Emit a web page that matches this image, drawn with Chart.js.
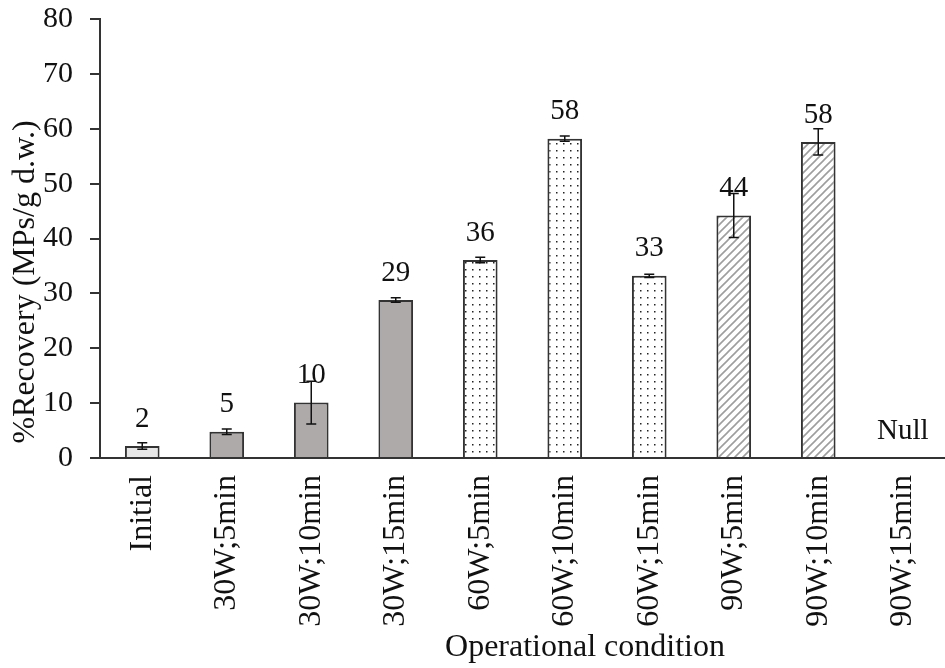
<!DOCTYPE html>
<html>
<head>
<meta charset="utf-8">
<title>Recovery by operational condition</title>
<script src="https://cdn.jsdelivr.net/npm/chart.js@4.4.1/dist/chart.umd.min.js"></script>
<style>
	html, body { margin: 0; padding: 0; background: #fff; }
	#wrap { width: 945px; height: 668px; }
</style>
</head>
<body>
<div id="wrap"><canvas id="recoveryChart" width="945" height="668"></canvas></div>
<script>
const categories = ["Initial", "30W;5min", "30W;10min", "30W;15min", "60W;5min",
	"60W;10min", "60W;15min", "90W;5min", "90W;10min", "90W;15min"];
const recovery = [2.2, 4.8, 10.1, 28.8, 36.1, 58.2, 33.2, 44.2, 57.6, null];
const errors = [0.6, 0.5, 3.9, 0.4, 0.5, 0.5, 0.3, 4.0, 2.4, null];
const yTicks = [0, 10, 20, 30, 40, 50, 60, 70, 80];
const FONT = "'Liberation Serif', 'Times New Roman', serif";

function hatchPattern(ctx) {
	const c = document.createElement("canvas");
	c.width = 8; c.height = 8;
	const g = c.getContext("2d");
	g.fillStyle = "#fff";
	g.fillRect(0, 0, 8, 8);
	g.strokeStyle = "#9e9e9e";
	g.lineWidth = 1.6;
	g.beginPath();
	g.moveTo(-2, 10); g.lineTo(10, -2);
	g.moveTo(-6, 6); g.lineTo(6, -6);
	g.moveTo(2, 14); g.lineTo(14, 2);
	g.stroke();
	return ctx.createPattern(c, "repeat");
}

function dotPattern(ctx) {
	const c = document.createElement("canvas");
	c.width = 7; c.height = 7;
	const g = c.getContext("2d");
	g.fillStyle = "#fff";
	g.fillRect(0, 0, 7, 7);
	g.fillStyle = "#222";
	g.fillRect(3, 3, 1.5, 1.5);
	return ctx.createPattern(c, "repeat");
}

// error bars, value labels, "Null" and the two axis titles
const annotate = {
	id: "annotate",
	afterDatasetsDraw(chart) {
		const { ctx, scales: { x, y } } = chart;
		ctx.save();
		ctx.strokeStyle = "#111";
		ctx.lineWidth = 1.5;
		recovery.forEach((v, i) => {
			if (v === null || errors[i] === null) return;
			const cx = x.getPixelForValue(i);
			const hi = y.getPixelForValue(v + errors[i]);
			const lo = y.getPixelForValue(v - errors[i]);
			ctx.beginPath();
			ctx.moveTo(cx, hi); ctx.lineTo(cx, lo);
			ctx.moveTo(cx - 5, hi); ctx.lineTo(cx + 5, hi);
			ctx.moveTo(cx - 5, lo); ctx.lineTo(cx + 5, lo);
			ctx.stroke();
		});
		ctx.fillStyle = "#111";
		ctx.font = "29px " + FONT;
		ctx.textAlign = "center";
		ctx.textBaseline = "middle";
		recovery.forEach((v, i) => {
			const cx = x.getPixelForValue(i);
			const top = y.getPixelForValue(v === null ? 0 : v);
			ctx.fillText(v === null ? "Null" : String(Math.round(v)), cx, top - 27);
		});
		ctx.font = "32px " + FONT;
		ctx.fillText("Operational condition", 585, 648);
		ctx.translate(26, 282);
		ctx.rotate(-Math.PI / 2);
		ctx.fillText("%Recovery (MPs/g d.w.)", 0, 0);
		ctx.restore();
	}
};

const ctx = document.getElementById("recoveryChart").getContext("2d");
const hatch = hatchPattern(ctx);
const dots = dotPattern(ctx);
const fills = categories.map((c, i) => {
	if (i === 0) return "#e6e6e6";
	if (c.startsWith("30W")) return "#aeaaaa";
	if (c.startsWith("60W")) return dots;
	return hatch;
});

new Chart(ctx, {
	type: "bar",
	data: {
		labels: categories,
		datasets: [{
			data: recovery,
			backgroundColor: fills,
			borderColor: "#333",
			borderWidth: 2,
			barPercentage: 0.41,
			categoryPercentage: 1,
		}],
	},
	options: {
		responsive: false,
		animation: false,
		layout: { padding: { top: 19, right: -6, left: 0, bottom: 0 } },
		plugins: {
			legend: { display: false },
			tooltip: { enabled: false },
		},
		scales: {
			x: {
				grid: { display: false, drawTicks: false },
				border: { color: "#333", width: 2 },
				ticks: {
					color: "#111",
					font: { family: FONT, size: 32 },
					minRotation: 90,
					maxRotation: 90,
					padding: 17,
					autoSkip: false,
				},
				afterFit(scale) {
					scale.height = 210;
					scale.paddingLeft = 0;
					scale.paddingRight = 0;
				},
			},
			y: {
				min: 0,
				max: 80,
				grid: { drawOnChartArea: false, drawTicks: true, tickLength: 10, color: "#333", lineWidth: 2 },
				border: { color: "#333", width: 2 },
				ticks: {
					stepSize: 10,
					color: "#111",
					padding: 17,
					font: { family: FONT, size: 30 },
					callback: (v) => yTicks.includes(v) ? v : "",
				},
				afterFit(scale) {
					scale.width = 100;
					scale.paddingTop = 0;
					scale.paddingBottom = 0;
				},
			},
		},
	},
	plugins: [annotate],
});
</script>
</body>
</html>
